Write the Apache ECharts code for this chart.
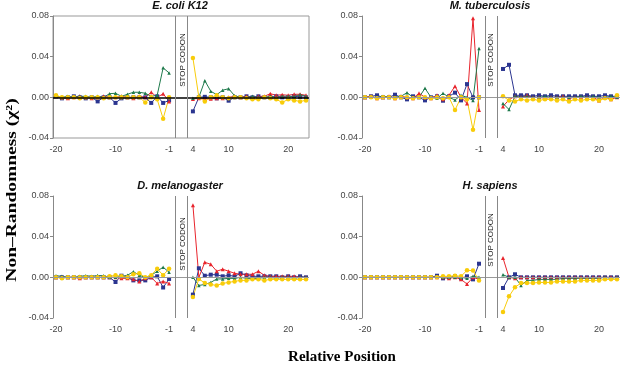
<!DOCTYPE html>
<html>
<head>
<meta charset="utf-8">
<script src="https://cdn.jsdelivr.net/npm/echarts@6/dist/echarts.min.js"></script>
<style>
  html, body { margin: 0; padding: 0; background: #fff; }
  #chart { width: 621px; height: 367px; }
</style>
</head>
<body>
<div id="chart"></div>
<script>
// relative positions; 1..3 is the stop codon itself (no data)
const positions = ['-20','-19','-18','-17','-16','-15','-14','-13','-12','-11',
  '-10','-9','-8','-7','-6','-5','-4','-3','-2','-1',
  '1','2','3',
  '4','5','6','7','8','9','10','11','12','13',
  '14','15','16','17','18','19','20','21','22','23'];
const shownTicks = ['-20','-10','-1','4','10','20'];
const stopCodonEdges = ['1','3'];
const panelTitles = ['E. coli K12', 'M. tuberculosis', 'D. melanogaster', 'H. sapiens'];
const seriesNames = ['blue', 'red', 'green', 'yellow'];

// E. coli K12
const ecoliBlue = [0.001,-0.001,0,0.001,0,-0.001,0,-0.004,0,0,-0.0055,-0.001,0,0,0,0,-0.0055,0.001,-0.0055,-0.003,
  null,null,null,
  -0.0138,0,0.0005,0,-0.001,0,-0.0033,0,0,0.001,0,0.001,0,0,0.001,0,0,0.001,0.0005,0];
const ecoliRed = [0.001,0,-0.001,0,0.001,0,-0.001,0,0.001,0,0,0.001,0,-0.001,0.001,0,0.005,0,0.0035,-0.004,
  null,null,null,
  -0.0016,-0.001,-0.0015,-0.0015,-0.001,-0.001,0,0.001,0,0.001,0,0.001,0.001,0.0036,0.002,0.0026,0.002,0.003,0.003,0.002];
const ecoliGreen = [0.001,0,0.001,0,0.001,0.001,0,0.001,0,0.0036,0.004,0.001,0.003,0.005,0.005,0.004,0.001,0.002,0.029,0.024,
  null,null,null,
  -0.001,0,0.0164,0.006,0.0026,0.007,0.0085,0.0016,0,0,0.001,0,0,0.001,0,0.001,0.001,0.001,0.0026,0.001];
const ecoliYellow = [0.002,0,0,0,-0.001,0,0,0,-0.001,0,0,0,0,0,0,-0.005,0,-0.002,-0.021,0,
  null,null,null,
  0.0387,0,-0.004,0,0.002,0,-0.001,0,0,-0.001,-0.002,-0.002,0,-0.001,-0.002,-0.005,-0.002,-0.003,-0.004,-0.003];

// M. tuberculosis
const mtbBlue = [0,0.001,0.002,0,0,0.0026,0,-0.002,0.001,0,-0.003,0,0.001,-0.0033,0.001,0.0046,-0.003,0.013,0,0,
  null,null,null,
  0.0279,0.032,0.002,0.002,0.002,0.001,0.002,0.001,0.002,0.001,0.001,0.001,0.001,0.001,0.002,0.001,0.001,0.002,0.001,0.001];
const mtbRed = [0,0.001,-0.001,0,0.001,-0.001,0.001,0,-0.001,0.004,0,-0.001,0.002,-0.002,0.002,0.011,0,-0.006,0.0777,-0.0125,
  null,null,null,
  -0.009,-0.0023,0.001,0,0.002,0,0,-0.001,0,0,0.001,-0.001,0,0,0,0,-0.003,0,-0.002,0];
const mtbGreen = [0,0,0,0.001,0,0,0.001,0.0046,0,0,0.0089,0,-0.001,0.004,0,-0.0026,0.002,0,-0.003,0.048,
  null,null,null,
  -0.006,-0.012,0.001,0,0.001,0,0,0.001,0,0,0,0,0,0.001,0,0.001,0,0,0.001,0];
const mtbYellow = [0,0,-0.001,0,0,-0.001,0,0,-0.001,0,0,-0.001,0,-0.001,0,-0.0125,0,-0.002,-0.032,0,
  null,null,null,
  0.001,-0.003,-0.004,-0.002,-0.003,-0.002,-0.003,-0.002,-0.002,-0.003,-0.002,-0.004,-0.002,-0.003,-0.002,-0.002,-0.003,-0.001,-0.002,0.002];

// D. melanogaster
const dmelBlue = [0,0,0,0,0,0,0,0,0,0,-0.0046,0.0016,0,-0.003,-0.003,-0.003,0,0.001,-0.010,-0.0016,
  null,null,null,
  -0.017,0.0089,0.0016,0.0026,0.0026,0.001,0.002,0.001,0.004,0.002,0.001,0.001,0.001,0.001,0.001,0,0.001,0,0.001,0];
const dmelRed = [0,0,0,0,-0.001,0,0,0,0,0,0,-0.001,-0.001,-0.002,-0.004,-0.001,0,-0.006,-0.004,-0.006,
  null,null,null,
  0.0709,0,0.0148,0.0128,0.006,0.008,0.006,0.004,0.003,0.003,0.003,0.006,0.002,0.001,0.001,0.001,0.001,0.001,0,0];
const dmelGreen = [0.0016,0.001,0,0,0.001,0.0016,0.001,0.0018,0.0016,0,0,0.001,0.002,0.0056,0.002,0,0.002,0.006,0.010,0.005,
  null,null,null,
  0,-0.008,-0.007,-0.005,-0.0016,-0.0016,-0.001,-0.001,0,-0.001,-0.001,-0.001,0,0,-0.001,0,0,-0.001,0,0];
const dmelYellow = [0,-0.001,0,0,0,0,0,0,0,0.001,0.002,0.001,0,0.003,0.004,0,0.002,0.0085,0.002,0.0085,
  null,null,null,
  -0.0194,-0.0016,-0.0056,-0.007,-0.008,-0.006,-0.005,-0.004,-0.003,-0.003,-0.002,-0.002,-0.003,-0.002,-0.002,-0.002,-0.002,-0.002,-0.002,-0.002];

// H. sapiens
const hsapBlue = [0,0,0,0,0,0,0,0,0,0,0,0,0.0016,-0.001,0,0.001,-0.001,0.001,-0.002,0.0134,
  null,null,null,
  -0.0105,0,0.003,0,0,0,0,0,0,0,0,0,0,0,0,0,0,0,0,0];
const hsapRed = [0,0,0,0,0,0,0,0,0,0,0,0,0,0,-0.001,0,-0.002,-0.0066,0,-0.002,
  null,null,null,
  0.019,0,-0.001,0,0,0,0,0,0,0,0,0,0,0,0,0,0,0,0,0];
const hsapGreen = [0,0,0,0,0,0,0,0,0,0,0,0,0,0,0,0,0,-0.001,0.001,0,
  null,null,null,
  0.0026,0,0,-0.008,-0.003,-0.003,-0.002,-0.002,-0.002,-0.002,-0.001,-0.001,-0.001,-0.001,-0.001,-0.001,-0.001,0,-0.001,0];
const hsapYellow = [0,0,0,0,0,0,0,0,0,0,0,0,0,0.001,0.001,0.0016,0.001,0.0069,0.0066,-0.003,
  null,null,null,
  -0.034,-0.0187,-0.0098,-0.0056,-0.0056,-0.0056,-0.005,-0.005,-0.005,-0.004,-0.004,-0.004,-0.004,-0.003,-0.003,-0.003,-0.003,-0.002,-0.002,-0.002];

const panelData = [
  [ecoliBlue, ecoliRed, ecoliGreen, ecoliYellow],
  [mtbBlue, mtbRed, mtbGreen, mtbYellow],
  [dmelBlue, dmelRed, dmelGreen, dmelYellow],
  [hsapBlue, hsapRed, hsapGreen, hsapYellow]
];

const colors = ['#2b3590', '#e8242c', '#1f7a4c', '#f8cc0a'];
const symbols = ['rect', 'triangle', 'triangle', 'circle'];
const symbolSizes = [4, 4, 3.5, 4.5];

const grids = [
  {left: 53, top: 16, width: 256, height: 122},
  {left: 362, top: 16, width: 258, height: 122},
  {left: 53, top: 196, width: 256, height: 122},
  {left: 362, top: 196, width: 258, height: 122}
];

const chart = echarts.init(document.getElementById('chart'));
const sans = 'Liberation Sans, Arial, sans-serif';
const serif = 'Liberation Serif, Times New Roman, serif';

const xAxes = [], yAxes = [], series = [], texts = [];
grids.forEach((g, k) => {
  g.show = k === 0;
  g.borderColor = '#999';
  g.borderWidth = 1;
  texts.push({
    type: 'text', x: g.left + g.width / 2 - 1, y: g.top - 10,
    style: {text: panelTitles[k], font: 'italic bold 11px ' + sans, fill: '#111', align: 'center', verticalAlign: 'middle'}
  });
  xAxes.push({
    type: 'category', gridIndex: k, data: positions, boundaryGap: true,
    axisLine: {show: false}, axisTick: {show: false}, splitLine: {show: false},
    axisLabel: {
      interval: (i, v) => shownTicks.includes(v),
      fontFamily: sans, fontSize: 9, color: '#444', margin: 7
    }
  });
  yAxes.push({
    type: 'value', gridIndex: k, min: -0.04, max: 0.08, interval: 0.04,
    axisLine: {show: true, lineStyle: {color: '#888', width: 1}},
    axisTick: {show: true, length: 3, lineStyle: {color: '#888'}},
    splitLine: {show: false},
    axisLabel: {formatter: v => v.toFixed(2), fontFamily: sans, fontSize: 9, color: '#444', margin: 4}
  });
  panelData[k].forEach((d, s) => {
    const item = {
      name: seriesNames[s], type: 'line', xAxisIndex: k, yAxisIndex: k, data: d,
      connectNulls: false, symbol: symbols[s], symbolSize: symbolSizes[s],
      showSymbol: true, showAllSymbol: true,
      itemStyle: {color: colors[s]}, lineStyle: {color: colors[s], width: 1}
    };
    if (s === 0) {
      item.markLine = {
        silent: true, symbol: 'none', animation: false, label: {show: false},
        data: [
          {yAxis: 0, lineStyle: {color: k === 0 ? '#000' : '#999', width: k === 0 ? 1.5 : 1, type: 'solid'}},
          {xAxis: stopCodonEdges[0], lineStyle: {color: '#888', width: 1, type: 'solid'}},
          {xAxis: stopCodonEdges[1], lineStyle: {color: '#888', width: 1, type: 'solid'}}
        ]
      };
    }
    series.push(item);
  });
});

const stopText = (x, y) => ({
  type: 'text', x: x, y: y, rotation: Math.PI / 2,
  style: {text: 'STOP CODON', font: '8px ' + sans, fill: '#222', align: 'center', verticalAlign: 'middle'}
});

chart.setOption({
  animation: false,
  grid: grids,
  xAxis: xAxes,
  yAxis: yAxes,
  series: series,
  graphic: texts.concat([
    stopText(183, 60), stopText(491, 60), stopText(183, 244), stopText(491, 240),
    {
      type: 'text', x: 12, y: 190, rotation: Math.PI / 2, scaleX: 1.3,
      style: {text: 'Non–Randomness (χ²)', font: 'bold 15px ' + serif, fill: '#000', align: 'center', verticalAlign: 'middle'}
    },
    {
      type: 'text', x: 342, y: 357,
      style: {text: 'Relative Position', font: 'bold 15px ' + serif, fill: '#000', align: 'center', verticalAlign: 'middle'}
    }
  ])
});
</script>
</body>
</html>
